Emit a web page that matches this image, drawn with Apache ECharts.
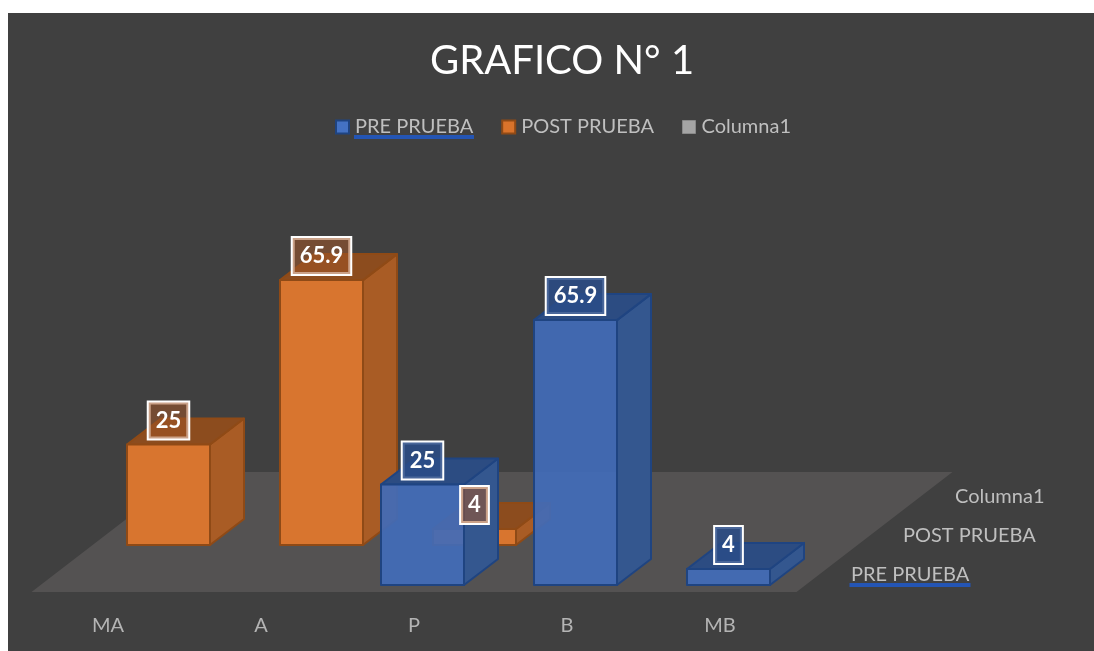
<!DOCTYPE html>
<html>
<head>
<meta charset="utf-8">
<style>html,body{margin:0;padding:0;background:#fff}#chart{width:1094px;height:651px}</style>
<script src="https://cdn.jsdelivr.net/npm/echarts@6/dist/echarts.min.js"></script>
</head>
<body>
<div id="chart"></div>
<script>
// ---- data ----
const titleText = 'GRAFICO N° 1';
const categories = ['MA', 'A', 'P', 'B', 'MB'];
const seriesNames = ['PRE PRUEBA', 'POST PRUEBA', 'Columna1'];
const preValues = [null, null, 25, 65.9, 4];
const postValues = [25, 65.9, 4, null, null];
const columna1Values = [null, null, null, null, null];

// ---- faux-3D projection style ----
const FONT = 'Lato, "Open Sans", sans-serif';
const BAR_W = 83, FRONT_DX = 8.5, ROW_DX = 52, ROW_DY = -40, DEPTH_DX = 34, DEPTH_DY = -26;

const palettes = {
  pre: {front: 'rgba(66,108,184,0.93)', side: '#34578f', top: '#2c4c82', border: '#1f4481', label: 'rgba(42,76,136,0.85)', legend: '#4472c4'},
  post: {front: '#d8752f', side: '#a95c25', top: '#8c4c1e', border: '#8f4a16', label: 'rgba(160,85,40,0.55)', legend: '#d9732b'},
  col: {front: '#a5a5a5', side: '#888', top: '#777', border: '#777', label: 'rgba(120,120,120,0.6)', legend: '#a5a5a5'}
};

function pairs(values) { return values.map((v, i) => [i, v]); }

function barSeries(name, values, row, pal) {
  return {
    name, type: 'custom', coordinateSystem: 'cartesian2d',
    itemStyle: {color: pal.legend},
    encode: {x: 0, y: 1},
    data: pairs(values),
    renderItem(params, api) {
      const v = api.value(1);
      if (v == null || isNaN(v)) return null;
      const base = api.coord([api.value(0), 0]);
      const head = api.coord([api.value(0), v]);
      const x0 = base[0] + FRONT_DX + row * ROW_DX - BAR_W / 2;
      const x1 = x0 + BAR_W;
      const y0 = base[1] + row * ROW_DY;
      const y1 = head[1] + row * ROW_DY;
      const line = {stroke: pal.border, lineWidth: 2, lineJoin: 'round'};
      return {
        type: 'group',
        children: [
          {type: 'polygon', shape: {points: [[x1, y1], [x1 + DEPTH_DX, y1 + DEPTH_DY], [x1 + DEPTH_DX, y0 + DEPTH_DY], [x1, y0]]},
            style: {fill: pal.side, ...line}},
          {type: 'polygon', shape: {points: [[x0, y1], [x0 + DEPTH_DX, y1 + DEPTH_DY], [x1 + DEPTH_DX, y1 + DEPTH_DY], [x1, y1]]},
            style: {fill: pal.top, ...line}},
          {type: 'rect', shape: {x: x0, y: y1, width: BAR_W, height: y0 - y1},
            style: {fill: pal.front, ...line}},
          {type: 'text', z2: 100, x: (x0 + x1) / 2, y: y1 - 24,
            style: {text: String(v), fill: '#fff', fontFamily: FONT, fontWeight: 'bold', fontSize: 22,
              align: 'center', verticalAlign: 'middle', backgroundColor: pal.label,
              borderColor: '#fff', borderWidth: 2, padding: [7, 7, 7, 7]}}
        ]
      };
    }
  };
}

const floorSeries = {
  name: 'floor', type: 'custom', silent: true, z: 1,
  data: [[0, 0]], encode: {x: 0, y: 1},
  renderItem(params, api) {
    const band = api.size([1, 0])[0];
    const left = api.coord([0, 0]);
    const right = api.coord([categories.length - 1, 0]);
    const xl = left[0] - band / 2, xr = right[0] + band / 2, y = left[1] + 7;
    const dx = seriesNames.length * ROW_DX, dy = seriesNames.length * ROW_DY;
    const labels = seriesNames.map((n, i) => ({
      type: 'text', x: xr + 54.5 + i * ROW_DX, y: left[1] - 10 + i * (ROW_DY + 1),
      style: {text: n, fill: '#bfbfbf', fontFamily: FONT, fontSize: 20, align: 'left', verticalAlign: 'middle'}
    }));
    const underline = {type: 'rect', shape: {x: xr + 53, y: left[1] - 2, width: 121, height: 4}, style: {fill: '#2455b4'}};
    return {type: 'group', children: [
      {type: 'polygon', shape: {points: [[xl, y], [xr, y], [xr + dx, y + dy], [xl + dx, y + dy]]}, style: {fill: '#545252'}},
      ...labels, underline
    ]};
  }
};

const chart = echarts.init(document.getElementById('chart'), null, {renderer: 'canvas'});
chart.setOption({
  animation: false,
  backgroundColor: '#ffffff',
  graphic: [
    {type: 'rect', z: -1, silent: true, shape: {x: 8, y: 13, width: 1086, height: 638}, style: {fill: '#404040'}},
    {type: 'rect', z: 10, silent: true, shape: {x: 354, y: 135, width: 120, height: 4}, style: {fill: '#2455b4'}}
  ],
  title: {text: titleText, left: 557, top: 36, textAlign: 'center',
    textStyle: {color: '#ffffff', fontFamily: FONT, fontWeight: 'normal', fontSize: 40}},
  legend: {
    left: 335, top: 117, padding: 0, icon: 'rect', itemWidth: 13, itemHeight: 13, itemGap: 28,
    textStyle: {color: '#bfbfbf', fontFamily: FONT, fontSize: 20, padding: [0, 0, 0, 1]},
    data: [
      {name: seriesNames[0], itemStyle: {color: palettes.pre.legend, borderColor: palettes.pre.border, borderWidth: 2}},
      {name: seriesNames[1], itemStyle: {color: palettes.post.legend, borderColor: palettes.post.border, borderWidth: 2}},
      {name: seriesNames[2], itemStyle: {color: palettes.col.legend, borderColor: '#8a8a8a', borderWidth: 1}}
    ]
  },
  grid: {left: 31.5, top: 183, width: 765, height: 402, containLabel: false},
  xAxis: {type: 'category', data: categories, axisLine: {show: false}, axisTick: {show: false},
    axisLabel: {color: '#b4b4b4', fontFamily: FONT, fontSize: 20, margin: 31}, splitLine: {show: false}},
  yAxis: {type: 'value', min: 0, max: 100, show: false, splitLine: {show: false}},
  series: [
    floorSeries,
    barSeries(seriesNames[2], columna1Values, 2, palettes.col),
    barSeries(seriesNames[1], postValues, 1, palettes.post),
    barSeries(seriesNames[0], preValues, 0, palettes.pre)
  ]
});
</script>
</body>
</html>
